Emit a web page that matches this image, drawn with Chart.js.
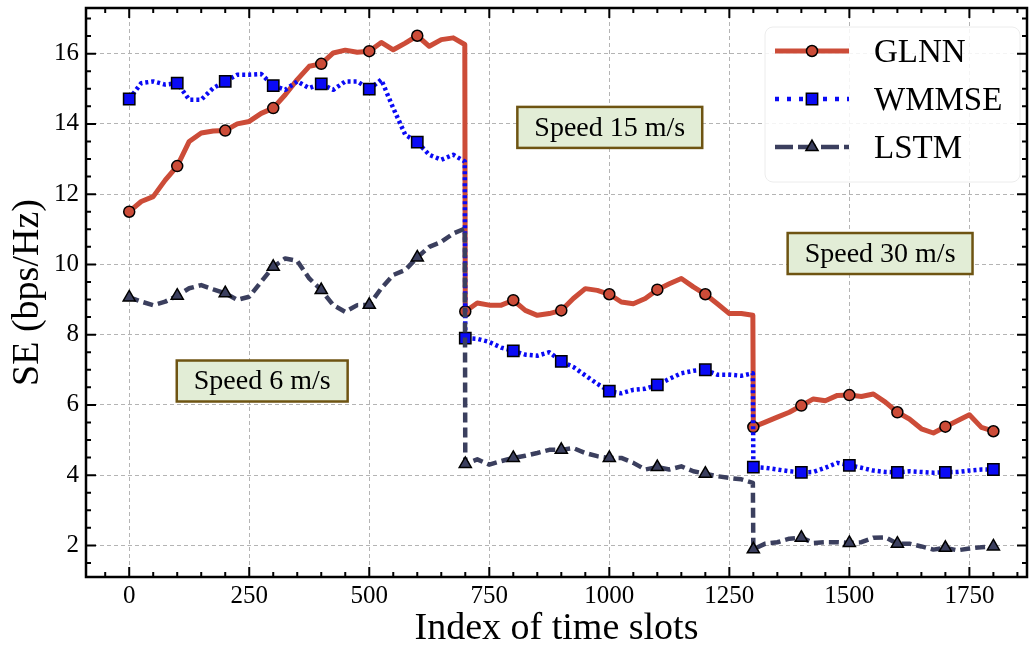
<!DOCTYPE html>
<html>
<head>
<meta charset="utf-8">
<script src="https://cdn.jsdelivr.net/npm/chart.js@4.4.0/dist/chart.umd.min.js"></script>
<style>
  html, body { margin: 0; padding: 0; background: #fff; }
  #wrap { width: 1033px; height: 649px; }
</style>
</head>
<body>
<div id="wrap"><canvas id="c" width="1033" height="649"></canvas></div>
<script>
// time slot index (jumps at 700 and 1300)
const slots = [
  0, 25, 50, 75, 100, 125, 150, 175, 200, 225, 250, 275, 300, 325, 350, 375,
  400, 425, 450, 475, 500, 525, 550, 575, 600, 625, 650, 675, 699,
  700, 725, 750, 775, 800, 825, 850, 875, 900, 925, 950, 975, 1000, 1025,
  1050, 1075, 1100, 1125, 1150, 1175, 1200, 1225, 1250, 1275, 1299,
  1300, 1325, 1350, 1375, 1400, 1425, 1450, 1475, 1500, 1525, 1550, 1575,
  1600, 1625, 1650, 1675, 1700, 1725, 1750, 1775, 1800
];

const glnn = [
  11.5, 11.79, 11.93, 12.4, 12.8, 13.5, 13.74, 13.8, 13.81, 14.0, 14.07, 14.3,
  14.45, 14.83, 15.26, 15.64, 15.71, 16.02, 16.1, 16.04, 16.07, 16.32, 16.11,
  16.3, 16.51, 16.21, 16.4, 16.45, 16.26,
  8.66, 8.9, 8.84, 8.84, 8.98, 8.69, 8.55, 8.6, 8.69, 9.03, 9.31, 9.26, 9.15,
  8.93, 8.88, 9.03, 9.28, 9.45, 9.6, 9.36, 9.15, 8.88, 8.6, 8.6, 8.55,
  5.37, 5.51, 5.65, 5.79, 5.98, 6.17, 6.12, 6.27, 6.28, 6.24, 6.31, 6.08,
  5.79, 5.6, 5.32, 5.2, 5.38, 5.55, 5.72, 5.36, 5.25
];

const wmmse = [
  14.71, 15.16, 15.21, 15.12, 15.16, 14.69, 14.69, 15.02, 15.21, 15.4, 15.4,
  15.42, 15.09, 14.97, 15.21, 15.02, 15.14, 14.97, 15.21, 15.21, 14.99, 15.26,
  14.45, 13.69, 13.48, 13.12, 12.98, 13.12, 12.93,
  7.9, 7.88, 7.79, 7.63, 7.54, 7.43, 7.4, 7.5, 7.24, 7.08, 6.84, 6.6, 6.39,
  6.33, 6.43, 6.46, 6.57, 6.74, 6.9, 6.97, 7.0, 6.86, 6.86, 6.83, 6.9,
  4.23, 4.21, 4.16, 4.11, 4.08, 4.09, 4.21, 4.35, 4.28, 4.21, 4.13, 4.09,
  4.08, 4.11, 4.09, 4.07, 4.08, 4.09, 4.13, 4.16, 4.16
];

const lstm = [
  9.06, 8.94, 8.84, 8.94, 9.11, 9.32, 9.41, 9.29, 9.18, 8.99, 9.08, 9.51,
  9.93, 10.17, 10.1, 9.6, 9.27, 8.84, 8.65, 8.84, 8.85, 9.32, 9.7, 9.84,
  10.2, 10.5, 10.64, 10.88, 11.02,
  4.32, 4.45, 4.3, 4.4, 4.49, 4.55, 4.63, 4.72, 4.72, 4.77, 4.63, 4.54, 4.49,
  4.49, 4.35, 4.16, 4.23, 4.16, 4.25, 4.11, 4.04, 3.97, 3.92, 3.88, 3.78,
  1.89, 2.05, 2.09, 2.19, 2.22, 2.07, 2.09, 2.09, 2.07, 2.09, 2.22, 2.23,
  2.05, 2.05, 1.97, 1.88, 1.93, 1.86, 1.91, 1.95, 1.97
];

const xTicks = [0, 250, 500, 750, 1000, 1250, 1500, 1750];
const yTicks = [2, 4, 6, 8, 10, 12, 14, 16];

const noteText = ["Speed 6 m/s", "Speed 15 m/s", "Speed 30 m/s"];
const noteX = [277, 1001, 1564];
const noteY = [6.68, 13.9, 10.31];

const SERIF = "'Liberation Serif', 'DejaVu Serif', serif";
const RED = "#cc4c38", BLUE = "#0a0af5", NAVY = "#3b3f5e";

function pts(vals) {
  return slots.map((s, i) => ({ x: s, y: vals[i] }));
}
function markEvery(r) {
  return ctx => (ctx.raw && ctx.raw.x % 100 === 0) ? r : 0;
}

const series = [
  { label: "GLNN", data: pts(glnn), color: RED, fill: RED, style: "circle", r: 5.5, w: 5, dash: [], lDash: [], order: 3 },
  { label: "WMMSE", data: pts(wmmse), color: BLUE, fill: BLUE, style: "rect", r: 8, w: 4.5, dash: [3, 3], lDash: [4, 8], order: 2 },
  { label: "LSTM", data: pts(lstm), color: NAVY, fill: NAVY, style: "triangle", r: 7, w: 4.5, dash: [10, 5], lDash: [18, 5], order: 1 }
];

const extras = {
  id: "extras",
  afterDatasetsDraw(chart) {
    const { ctx, chartArea: a, scales: { x, y } } = chart;
    ctx.save();

    // speed notes
    ctx.font = "28px " + SERIF;
    ctx.textAlign = "center";
    ctx.textBaseline = "middle";
    noteText.forEach((t, i) => {
      const cx = x.getPixelForValue(noteX[i]);
      const cy = y.getPixelForValue(noteY[i]);
      const w = ctx.measureText(t).width + 34, h = 41;
      ctx.fillStyle = "#e2edd6";
      ctx.fillRect(cx - w / 2, cy - h / 2, w, h);
      ctx.strokeStyle = "#6e5412";
      ctx.lineWidth = 2.5;
      ctx.strokeRect(cx - w / 2, cy - h / 2, w, h);
      ctx.fillStyle = "#000";
      ctx.fillText(t, cx, cy + 1);
    });

    // legend
    const lx = 765, ly = 27, lw = 255, lh = 155;
    ctx.beginPath();
    ctx.roundRect(lx, ly, lw, lh, 8);
    ctx.fillStyle = "rgba(255,255,255,0.85)";
    ctx.fill();
    ctx.strokeStyle = "#ececec";
    ctx.lineWidth = 1;
    ctx.stroke();
    ctx.font = "33px " + SERIF;
    ctx.textAlign = "left";
    series.forEach((s, i) => {
      const yy = 51 + i * 48;
      ctx.strokeStyle = s.color;
      ctx.lineWidth = s.w;
      ctx.setLineDash(s.lDash);
      ctx.beginPath();
      ctx.moveTo(775, yy);
      ctx.lineTo(849, yy);
      ctx.stroke();
      ctx.setLineDash([]);
      ctx.fillStyle = s.fill;
      ctx.strokeStyle = "#000";
      ctx.lineWidth = 1.5;
      Chart.helpers.drawPoint(ctx, { pointStyle: s.style, radius: s.r, rotation: 0, borderWidth: 1.5 }, 812, yy);
      ctx.fillStyle = "#000";
      ctx.fillText(s.label, 874, yy + 2);
    });

    // inward ticks on all four sides
    ctx.strokeStyle = "#000";
    ctx.lineWidth = 2;
    ctx.beginPath();
    for (let v = -50; v <= 1850; v += 50) {
      const px = x.getPixelForValue(v);
      if (px <= a.left || px >= a.right) continue;
      const len = v % 250 === 0 ? 10 : 5;
      ctx.moveTo(px, a.bottom); ctx.lineTo(px, a.bottom - len);
      ctx.moveTo(px, a.top); ctx.lineTo(px, a.top + len);
    }
    for (let v = 1.5; v <= 17; v += 0.5) {
      const py = y.getPixelForValue(v);
      if (py <= a.top || py >= a.bottom) continue;
      const len = v % 2 === 0 ? 10 : 5;
      ctx.moveTo(a.left, py); ctx.lineTo(a.left + len, py);
      ctx.moveTo(a.right, py); ctx.lineTo(a.right - len, py);
    }
    ctx.stroke();

    // frame
    ctx.lineWidth = 2.5;
    ctx.strokeRect(a.left, a.top, a.right - a.left, a.bottom - a.top);
    ctx.restore();
  }
};

function fixBox(w, h) {
  return scale => {
    if (w) scale.width = w;
    if (h) scale.height = h;
    scale.paddingTop = 0; scale.paddingBottom = 0;
    scale.paddingLeft = 0; scale.paddingRight = 0;
  };
}

new Chart(document.getElementById("c"), {
  type: "line",
  data: {
    datasets: series.map(s => ({
      label: s.label,
      data: s.data,
      order: s.order,
      borderColor: s.color,
      borderWidth: s.w,
      borderDash: s.dash,
      borderCapStyle: "butt",
      borderJoinStyle: "round",
      tension: 0,
      pointStyle: s.style,
      pointRadius: markEvery(s.r),
      pointHoverRadius: markEvery(s.r),
      pointBackgroundColor: s.fill,
      pointBorderColor: "#000",
      pointBorderWidth: 1.5
    }))
  },
  options: {
    responsive: false,
    animation: false,
    events: [],
    layout: { autoPadding: false, padding: { left: 0, top: 8, right: 6, bottom: 0 } },
    scales: {
      x: {
        type: "linear",
        min: -90,
        max: 1870,
        afterBuildTicks: scale => { scale.ticks = xTicks.map(v => ({ value: v })); },
        afterFit: fixBox(0, 72),
        grid: { color: "#b4b4b4", lineWidth: 1, drawTicks: false },
        border: { display: false, dash: [4, 3] },
        ticks: {
          color: "#000", padding: 4, maxRotation: 0,
          font: { family: SERIF, size: 25 },
          callback: v => String(v)
        },
        title: {
          display: true, text: "Index of time slots", color: "#000",
          padding: { top: 0, bottom: 1 }, font: { family: SERIF, size: 38, lineHeight: 1 }
        }
      },
      y: {
        min: 1.1,
        max: 17.3,
        afterBuildTicks: scale => { scale.ticks = yTicks.map(v => ({ value: v })); },
        afterFit: fixBox(86, 0),
        grid: { color: "#b4b4b4", lineWidth: 1, drawTicks: false },
        border: { display: false, dash: [4, 3] },
        ticks: {
          color: "#000", padding: 7,
          font: { family: SERIF, size: 25 },
          callback: v => String(v)
        },
        title: {
          display: true, text: "SE (bps/Hz)", color: "#000",
          padding: { top: 9, bottom: 0 }, font: { family: SERIF, size: 38, lineHeight: 1 }
        }
      }
    },
    plugins: {
      legend: { display: false },
      tooltip: { enabled: false }
    }
  },
  plugins: [extras]
});
</script>
</body>
</html>
